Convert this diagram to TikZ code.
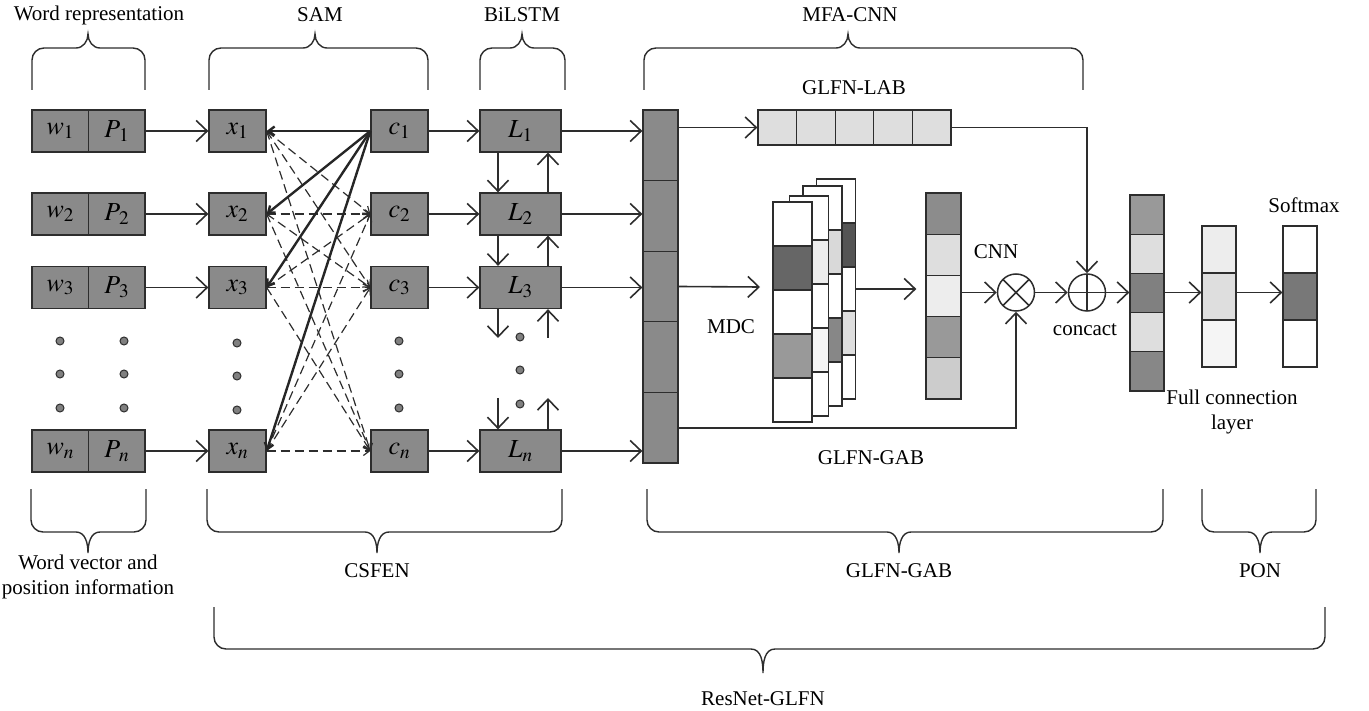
\documentclass[tikz,border=0pt]{standalone}
\usepackage{mathptmx}
\usepackage[no-math]{fontspec}
\setmainfont{Liberation Serif}
\usetikzlibrary{
  arrows.meta,
  positioning,
  calc
}
\definecolor{glfnBox}{RGB}{138,138,138}
\definecolor{glfnLine}{RGB}{45,45,45}
\definecolor{glfnDot}{RGB}{128,128,128}
\tikzset{
  glfnbox/.style={
    draw=glfnLine,
    fill=glfnBox,
    line width=1.3pt,
    minimum height=42pt,
    inner sep=0pt,
    font=\fontsize{26}{28}\selectfont
  },
  wcell/.style={glfnbox, minimum width=56.5pt},
  xcell/.style={glfnbox, minimum width=57pt},
  lcell/.style={glfnbox, minimum width=81pt},
  vcell/.style={
    draw=glfnLine,
    line width=1.3pt,
    inner sep=0pt
  },
  colcell/.style={vcell, fill=glfnBox, minimum width=35pt, minimum height=70.6pt},
  labcell/.style={vcell, fill=black!13, minimum width=38.6pt, minimum height=35pt},
  sheetcell/.style={vcell, minimum width=39pt, minimum height=44pt},
  cnncell/.style={vcell, minimum width=35pt, minimum height=41.2pt},
  catcell/.style={vcell, minimum width=34pt, minimum height=39.2pt},
  fccell/.style={vcell, minimum width=34pt, minimum height=47pt},
  glfntext/.style={
    inner sep=0pt,
    align=center,
    font=\fontsize{21}{25}\selectfont
  },
  glfndot/.style={
    circle,
    draw=glfnLine,
    fill=glfnDot,
    line width=1pt,
    minimum size=8pt,
    inner sep=0pt
  },
  opnode/.style={
    circle,
    draw=glfnLine,
    fill=white,
    line width=1.5pt,
    minimum size=37pt,
    inner sep=0pt
  },
  glfnarrow/.style={
    -{Straight Barb[length=11pt,width=21pt]},
    line width=1.6pt,
    draw=glfnLine
  },
  samsolid/.style={
    -{Straight Barb[length=6pt,width=9pt]},
    line width=2.4pt,
    draw=black!85
  },
  samdashed/.style={
    -{Straight Barb[length=6pt,width=9pt]},
    line width=1.2pt,
    dash pattern=on 9pt off 5pt,
    draw=glfnLine
  },
  glfnbrace/.style={
    line width=1.4pt,
    draw=glfnLine
  }
}
% brace opening downwards: left, right, tip x
\newcommand{\glfnTopBrace}[3]{%
  \draw[glfnbrace] (#1,90) -- (#1,60) to[out=90,in=180] (#1+12,48)
    -- (#3-12,48) to[out=0,in=-90] (#3,34) to[out=-90,in=180] (#3+12,48)
    -- (#2-12,48) to[out=0,in=90] (#2,60) -- (#2,90);}
% brace opening upwards: left, right, tip x, top, bar, tip y
\newcommand{\glfnBotBrace}[6]{%
  \draw[glfnbrace] (#1,#4) -- (#1,#5-12) to[out=-90,in=180] (#1+12,#5)
    -- (#3-12,#5) to[out=0,in=90] (#3,#6) to[out=90,in=180] (#3+12,#5)
    -- (#2-12,#5) to[out=0,in=-90] (#2,#5-12) -- (#2,#4);}

\begin{document}
\begin{tikzpicture}[x=1pt,y=-1pt]
  \useasboundingbox (0,0) rectangle (1369,711);

  % top labels and braces
  \node[glfntext] (lblword) at (99,15) {Word representation};
  \node[glfntext] (lblsam) at (320,15) {SAM};
  \node[glfntext] (lbllstm) at (522,15) {BiLSTM};
  \node[glfntext] (lblmfa) at (850,15) {MFA-CNN};
  \glfnTopBrace{32}{145}{88}
  \glfnTopBrace{209}{428}{315}
  \glfnTopBrace{480}{565}{522}
  \glfnTopBrace{644}{1083}{848}

  % feature column
  \foreach \i in {1,...,5}
    \node[colcell] (col\i) at (660.5,{110+70.6*(\i-0.5)}) {};

  % rows
  \foreach \r/\yy in {1/131,2/214,3/287.5,n/451} {
    \node[wcell] (w\r) at (60.25,\yy) {$w_\r$};
    \node[wcell] (p\r) at (116.75,\yy) {$P_{\,\r}$};
    \node[xcell] (x\r) at (237.5,\yy) {$x_\r$};
    \node[xcell] (c\r) at (399.5,\yy) {$c_\r$};
    \node[lcell] (L\r) at (520.5,\yy) {$L_\r$};
  }
  \foreach \r in {1,2,3,n} {
    \draw[glfnarrow] (p\r) -- (x\r);
    \draw[glfnarrow] (c\r) -- (L\r);
    \draw[glfnarrow] (L\r) -- (L\r -| col1.west);
  }

  % dots
  \foreach \yy [count=\k] in {341,374,408} {
    \node[glfndot] (dw\k) at (60,\yy) {};
    \node[glfndot] (dp\k) at (124,\yy) {};
    \node[glfndot] (dx\k) at (237,{\yy+2}) {};
    \node[glfndot] (dc\k) at (399,\yy) {};
    \node[glfndot] (dl\k) at (520,{\yy-4}) {};
  }

  % self attention
  \foreach \r in {2,3,n}
    \foreach \s in {1,2,3,n}
      \draw[samdashed] (x\s.east) -- (c\r.west);
  \foreach \r in {1,2,3,n}
    \draw[samsolid] (c1.west) -- (x\r.east);

  % BiLSTM links
  \coordinate (lstmA) at (498,338);
  \coordinate (lstmB) at (548,338);
  \coordinate (lstmC) at (498,398);
  \coordinate (lstmD) at (548,398);
  \draw[glfnarrow] ([xshift=-22.5pt]L1.south) -- ([xshift=-22.5pt]L2.north);
  \draw[glfnarrow] ([xshift=27.5pt]L2.north) -- ([xshift=27.5pt]L1.south);
  \draw[glfnarrow] ([xshift=-22.5pt]L2.south) -- ([xshift=-22.5pt]L3.north);
  \draw[glfnarrow] ([xshift=27.5pt]L3.north) -- ([xshift=27.5pt]L2.south);
  \draw[glfnarrow] ([xshift=-22.5pt]L3.south) -- (lstmA);
  \draw[glfnarrow] (lstmB) -- ([xshift=27.5pt]L3.south);
  \draw[glfnarrow] (lstmC) -- ([xshift=-22.5pt]Ln.north);
  \draw[glfnarrow] ([xshift=27.5pt]Ln.north) -- (lstmD);

  % GLFN-LAB
  \foreach \i in {1,...,5}
    \node[labcell] (lab\i) at ({758+38.6*(\i-0.5)},127.5) {};
  \node[glfntext] (lbllab) at (854,88) {GLFN-LAB};

  % MDC sheets
  \foreach \s/\sx/\sy/\fills in {
      4/836/179/{white,black!67,white,black!13,white},
      3/822.5/186/{white,black!15,white,black!47,white},
      2/809/196/{white,black!7,white,black!4,white},
      1/792.5/202/{white,black!60,white,black!40,white}}
    \foreach \f [count=\i] in \fills
      \node[sheetcell, fill=\f] (mdc\s\i) at (\sx,{\sy+44*(\i-0.5)}) {};
  \node[glfntext] (lblmdc) at (731,327) {MDC};
  \coordinate (mdcin) at (760,287);

  % CNN output
  \foreach \f [count=\i] in {black!45,black!13,black!7,black!40,black!20}
    \node[cnncell, fill=\f] (cnnv\i) at (943.5,{193+41.2*(\i-0.5)}) {};
  \node[glfntext] (lblcnn) at (996,252) {CNN};

  \node[opnode, path picture={
      \draw[line width=1.5pt, glfnLine]
        (path picture bounding box.north west) -- (path picture bounding box.south east)
        (path picture bounding box.north east) -- (path picture bounding box.south west);}]
    (otimes) at (1016,292.5) {};
  \node[opnode, path picture={
      \draw[line width=1.5pt, glfnLine]
        (path picture bounding box.north) -- (path picture bounding box.south)
        (path picture bounding box.west) -- (path picture bounding box.east);}]
    (oplus) at (1087,292.5) {};
  \node[glfntext] (lblcat) at (1085,330) {concact};

  % concat, full connection, softmax
  \foreach \f [count=\i] in {black!40,black!13,black!50,black!13,black!47}
    \node[catcell, fill=\f] (cat\i) at (1147,{195+39.2*(\i-0.5)}) {};
  \foreach \f [count=\i] in {black!7,black!13,black!4}
    \node[fccell, fill=\f] (fc\i) at (1219,{226+47*(\i-0.5)}) {};
  \foreach \f [count=\i] in {white,black!53,white}
    \node[fccell, fill=\f] (sm\i) at (1300,{226+47*(\i-0.5)}) {};
  \node[glfntext] (lblsm) at (1304,205) {Softmax};
  \node[glfntext] (lblfc) at (1232,412) {Full connection\\layer};
  \node[glfntext] (lblgab) at (871,458) {GLFN-GAB};

  % MFA-CNN flow
  \draw[glfnarrow] (col1.east |- lab1) -- (lab1.west);
  \draw[glfnarrow] (lab5.east) -| (oplus.north);
  \draw[glfnarrow] (col3.east) -- (mdcin);
  \draw[glfnarrow, shorten >=9pt] (mdc43.east) -- (mdc43.east -| cnnv1.west);
  \draw[glfnarrow] (cnnv3.east |- otimes) -- (otimes.west);
  \draw[glfnarrow] (otimes.east) -- (oplus.west);
  \draw[glfnarrow] (oplus.east) -- (oplus -| cat1.west);
  \draw[glfnarrow] (cat3.east |- oplus) -- (oplus -| fc1.west);
  \draw[glfnarrow] (fc2.east |- oplus) -- (oplus -| sm1.west);
  \draw[glfnarrow] (col5.east) -| (otimes.south);

  % bottom braces and labels
  \glfnBotBrace{31}{146}{88}{489}{532}{553}
  \glfnBotBrace{207}{562}{377}{489}{532}{553}
  \glfnBotBrace{647}{1163}{899}{489}{532}{553}
  \glfnBotBrace{1202}{1316}{1260}{489}{532}{553}
  \glfnBotBrace{214}{1325}{763}{607}{649}{673}
  \node[glfntext] (lblvec) at (88,577) {Word vector and\\position information};
  \node[glfntext] (lblcsfen) at (377,571) {CSFEN};
  \node[glfntext] (lblgab2) at (899,571) {GLFN-GAB};
  \node[glfntext] (lblpon) at (1260,571) {PON};
  \node[glfntext] (lblres) at (763,699) {ResNet-GLFN};
\end{tikzpicture}
\end{document}
